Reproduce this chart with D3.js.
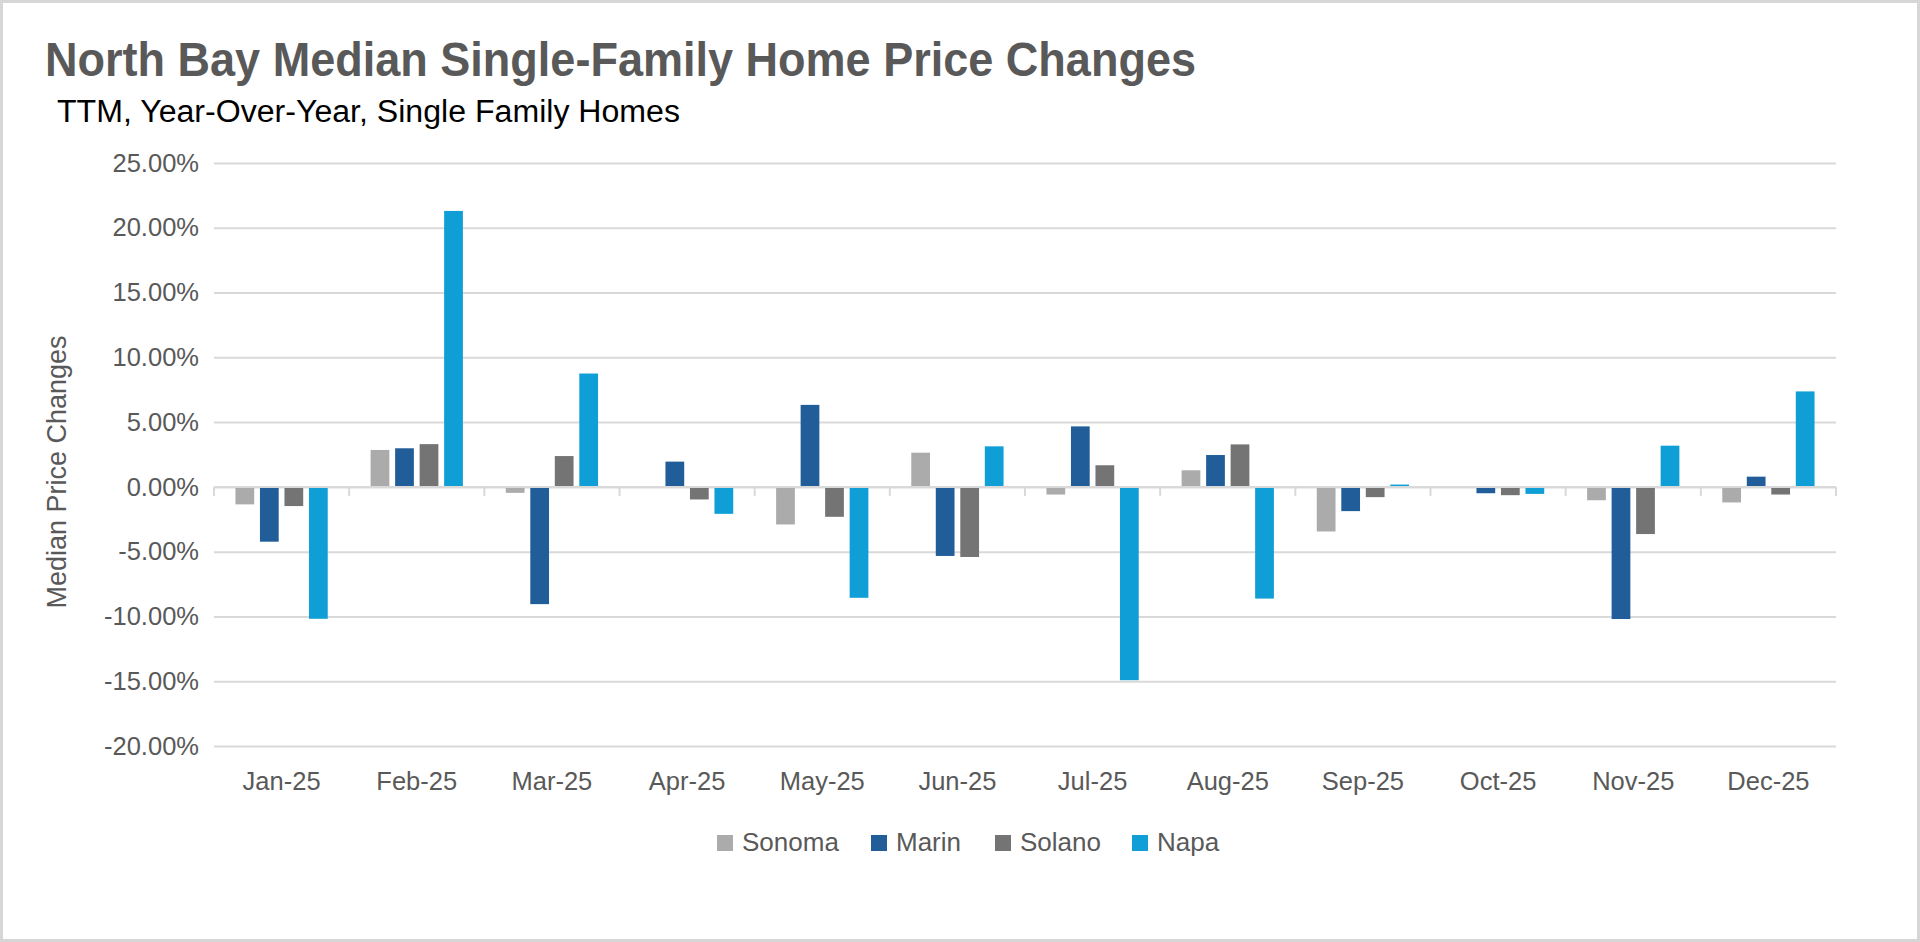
<!DOCTYPE html>
<html><head><meta charset="utf-8">
<script src="https://cdn.jsdelivr.net/npm/d3@7/dist/d3.min.js"></script>
<style>html,body{margin:0;padding:0;background:#fff;overflow:hidden}</style>
</head><body>
<svg id="chart" width="1920" height="942"></svg>
<script>
const months = ["Jan-25","Feb-25","Mar-25","Apr-25","May-25","Jun-25","Jul-25","Aug-25","Sep-25","Oct-25","Nov-25","Dec-25"];
const seriesNames = ["Sonoma","Marin","Solano","Napa"];
const sonoma = [-1.35, 2.85, -0.46, 0.00, -2.90, 2.64, -0.59, 1.28, -3.44, 0.00, -1.03, -1.20];
const marin  = [-4.23, 2.98, -9.05, 1.95, 6.33, -5.33, 4.67, 2.46, -1.87, -0.49, -10.20, 0.79];
const solano = [-1.48, 3.30, 2.38, -0.97, -2.31, -5.41, 1.67, 3.28, -0.79, -0.64, -3.64, -0.59];
const napa   = [-10.18, 21.30, 8.75, -2.08, -8.56, 3.13, -14.92, -8.62, 0.18, -0.54, 3.18, 7.37];
const colors = ["#ababab","#215e99","#747474","#0f9ed5"];
const yTicks = [-20,-15,-10,-5,0,5,10,15,20,25];

const seriesValues = [sonoma, marin, solano, napa];
const data = months.map((m,i)=>({month:m, values: seriesNames.map((s,j)=>({key:s, idx:j, value:seriesValues[j][i]}))}));

const svg = d3.select("#chart");
const W = 1920, H = 942;
const pLeft = 214, pRight = 1836, pTop = 163, pBottom = 746;
const tickFont = "'Liberation Sans', Arial, sans-serif";

svg.append("rect").attr("x",1.5).attr("y",1.5).attr("width",W-3).attr("height",H-3)
  .attr("fill","#fff").attr("stroke","#d6d6d6").attr("stroke-width",3);

// Title
svg.append("text").attr("x",45).attr("y",76)
  .attr("font-family","'Liberation Sans Narrow','Liberation Sans',Arial,sans-serif")
  .attr("font-weight","bold").attr("font-size",49).attr("fill","#595959")
  .attr("textLength",1151).attr("lengthAdjust","spacingAndGlyphs")
  .text("North Bay Median Single-Family Home Price Changes");
svg.append("text").attr("x",57).attr("y",122)
  .attr("font-family","'Liberation Sans Narrow','Liberation Sans',Arial,sans-serif")
  .attr("font-size",31).attr("fill","#000")
  .attr("textLength",623).attr("lengthAdjust","spacingAndGlyphs")
  .text("TTM, Year-Over-Year,  Single Family Homes");

const x0 = d3.scaleBand().domain(months).range([pLeft,pRight]).padding(0);
const x1 = d3.scaleBand().domain(seriesNames).range([0,x0.bandwidth()]).paddingInner(0.235).paddingOuter(0.875);
const y = d3.scaleLinear().domain([-20,25]).range([pBottom,pTop]);

// gridlines
const gAxis = svg.append("g").attr("transform",`translate(${pLeft},0)`)
  .call(d3.axisLeft(y).tickValues(yTicks).tickSize(-(pRight-pLeft)).tickFormat(d=>d.toFixed(2)+"%").tickPadding(15));
gAxis.select(".domain").remove();
gAxis.selectAll(".tick line").attr("stroke","#d9d9d9").attr("stroke-width",2);
gAxis.selectAll(".tick text").attr("font-family",tickFont).attr("font-size",25.5).attr("fill","#595959");

// bars
const groups = svg.append("g").selectAll("g").data(data).join("g")
  .attr("transform",d=>`translate(${x0(d.month)},0)`);
groups.selectAll("rect").data(d=>d.values).join("rect")
  .attr("x",d=>x1(d.key)).attr("width",x1.bandwidth())
  .attr("y",d=>y(Math.max(0,d.value)))
  .attr("height",d=>Math.abs(y(d.value)-y(0)))
  .attr("fill",d=>colors[d.idx]);

// zero axis with category ticks
const gx = svg.append("g").attr("transform",`translate(0,${y(0)})`);
gx.append("line").attr("x1",pLeft).attr("x2",pRight).attr("stroke","#d9d9d9").attr("stroke-width",2);
const boundaries = months.map(m=>x0(m)).concat([pRight]);
gx.selectAll("line.tk").data(boundaries).join("line").attr("class","tk")
  .attr("x1",d=>d).attr("x2",d=>d).attr("y1",0).attr("y2",9)
  .attr("stroke","#d9d9d9").attr("stroke-width",2);

// x labels
const xAxis = svg.append("g").attr("transform",`translate(0,${pBottom})`)
  .call(d3.axisBottom(x0).tickSize(0).tickPadding(26));
xAxis.select(".domain").remove();
xAxis.selectAll("text").attr("font-family",tickFont).attr("font-size",25.5).attr("fill","#595959");

// y title
svg.append("text").attr("transform",`translate(66,472) rotate(-90)`).attr("text-anchor","middle")
  .attr("font-family",tickFont).attr("font-size",27).attr("fill","#595959")
  .text("Median Price Changes");

// legend
const legX = [717, 871, 995, 1132];
const leg = svg.append("g").selectAll("g").data(seriesNames).join("g")
  .attr("transform",(d,i)=>`translate(${legX[i]},835)`);
leg.append("rect").attr("width",16).attr("height",16).attr("fill",(d,i)=>colors[i]);
leg.append("text").attr("x",25).attr("y",16).attr("font-family",tickFont).attr("font-size",26)
  .attr("fill","#595959").text(d=>d);
</script>
</body></html>
